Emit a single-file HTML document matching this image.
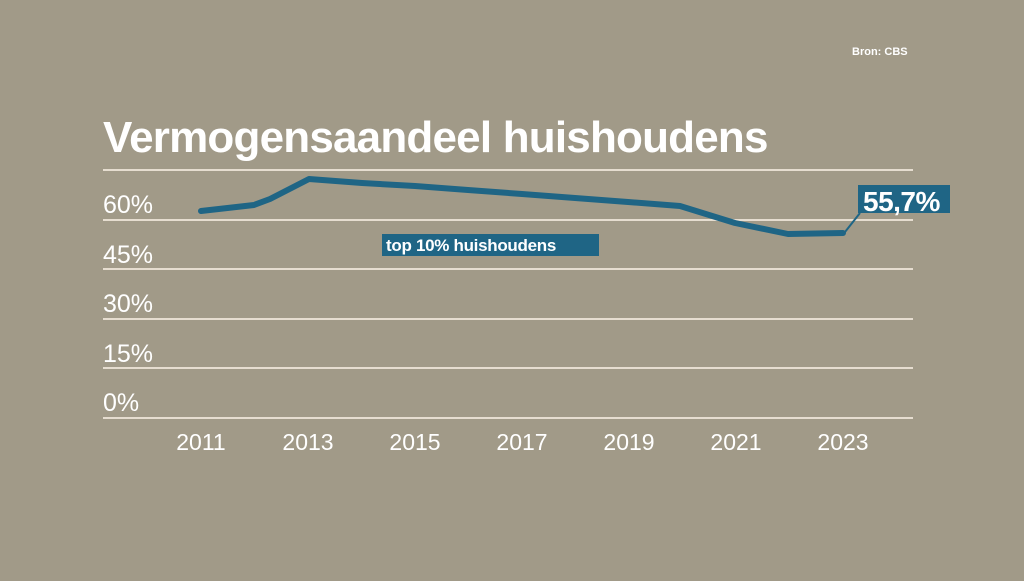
<!DOCTYPE html><html><head><style>body{margin:0;width:1024px;height:576px;background:#a19a88;overflow:hidden;font-family:"Liberation Sans",sans-serif}</style></head><body>
<svg width="1024" height="576" xmlns="http://www.w3.org/2000/svg">
<rect width="1024" height="576" fill="#a19a88"/>
<text x="852" y="55" font-size="11" fill="#fff" font-weight="bold">Bron: CBS</text>
<text x="103" y="152" font-size="44" fill="#fff" font-weight="bold" letter-spacing="-0.8">Vermogensaandeel huishoudens</text>
<g stroke="#e6ddd0" stroke-width="2">
<line x1="103" x2="913" y1="170" y2="170"/><line x1="103" x2="913" y1="220" y2="220"/><line x1="103" x2="913" y1="269" y2="269"/><line x1="103" x2="913" y1="319" y2="319"/><line x1="103" x2="913" y1="368" y2="368"/><line x1="103" x2="913" y1="418" y2="418"/></g>
<g font-size="25" fill="#fff">
<text x="103" y="213">60%</text><text x="103" y="263">45%</text><text x="103" y="312">30%</text><text x="103" y="362">15%</text><text x="103" y="411">0%</text></g>
<g font-size="23" fill="#fff" text-anchor="middle">
<text x="201" y="450">2011</text><text x="308" y="450">2013</text><text x="415" y="450">2015</text><text x="522" y="450">2017</text><text x="629" y="450">2019</text><text x="736" y="450">2021</text><text x="843" y="450">2023</text></g>
<polyline fill="none" stroke="#1f6585" stroke-width="6" stroke-linejoin="round" stroke-linecap="round" points="201,211 254,205 270,199 309,179 362,183 415,186 468,190 522,194 575,198 628,202 680,206 735,223 788,234 843,233"/>
<line x1="845" y1="232" x2="860" y2="213" stroke="#1f6585" stroke-width="2"/>
<rect x="382" y="234" width="217" height="22" fill="#1f6585"/>
<text x="386" y="251" font-size="17" fill="#fff" font-weight="bold" letter-spacing="-0.3">top 10% huishoudens</text>
<rect x="858" y="185" width="92" height="28" fill="#1f6585"/>
<text x="863" y="211" font-size="28" fill="#fff" font-weight="bold" letter-spacing="-0.5">55,7%</text>
</svg></body></html>
